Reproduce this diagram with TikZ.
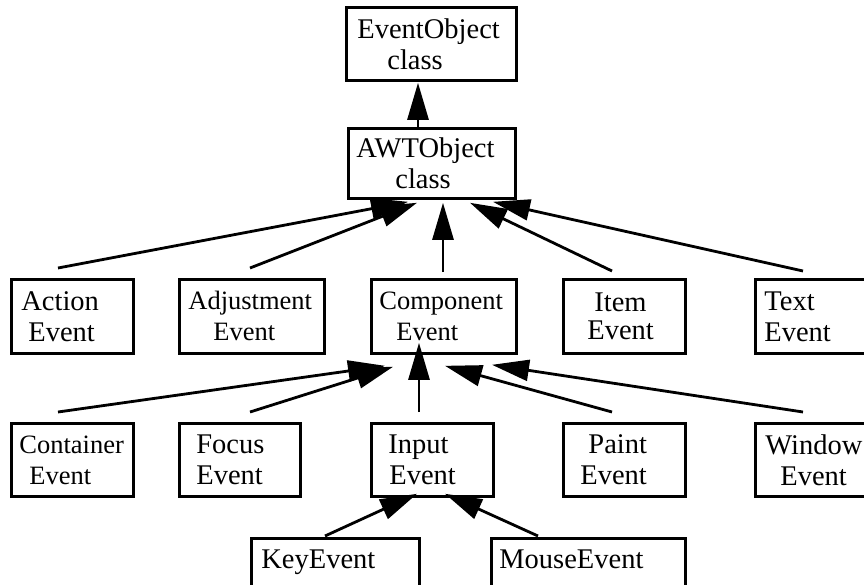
\documentclass[tikz,border=0pt]{standalone}
\usepackage{fontspec}
\setmainfont{Liberation Serif}
\usetikzlibrary{arrows.meta}
\begin{document}
\begin{tikzpicture}[x=1pt,y=-1pt,
  box/.style={draw, line width=2.8pt, inner sep=0pt, anchor=north west, align=left, font=\fontsize{28.5}{31}\selectfont},
  smallf/.style={font=\fontsize{26.5}{31}\selectfont},
  inh/.style={line width=2.8pt, -{Triangle[length=37pt,width=21pt]}}]
\useasboundingbox (0,0) rectangle (864,584);
% boxes
\node[box, minimum width=170pt, minimum height=73pt, text width=170pt] (eo) at (345,6) {\hspace*{11pt}EventObject\\\hspace*{41pt}class};
\node[box, minimum width=167pt, minimum height=70pt, text width=167pt] (awt) at (347,127) {\hspace*{8pt}AWTObject\\\hspace*{47pt}class};
% row 2
\node[box, minimum width=122pt, minimum height=74pt, text width=122pt] (act) at (10,278) {\hspace*{10pt}Action\\\hspace*{17pt}Event};
\node[box, smallf, minimum width=145pt, minimum height=74pt, text width=145pt] (adj) at (178,278) {\hspace*{9pt}Adjustment\\\hspace*{34pt}Event};
\node[box, smallf, minimum width=145pt, minimum height=74pt, text width=145pt] (comp) at (370,278) {\hspace*{8pt}Component\\\hspace*{25pt}Event};
\node[box, font=\fontsize{28.5}{28}\selectfont, minimum width=122pt, minimum height=74pt, text width=122pt] (item) at (562,278) {\hspace*{31pt}Item\\\hspace*{24pt}Event};
\node[box, minimum width=116pt, minimum height=74pt, text width=116pt] (text) at (754,278) {\hspace*{9pt}Text\\\hspace*{9pt}Event};
% row 3
\node[box, smallf, minimum width=122pt, minimum height=73pt, text width=122pt] (cont) at (10,422) {\hspace*{8pt}Container\\\hspace*{18pt}Event};
\node[box, minimum width=121pt, minimum height=73pt, text width=121pt] (foc) at (178,422) {\hspace*{17pt}Focus\\\hspace*{17pt}Event};
\node[box, minimum width=122pt, minimum height=73pt, text width=122pt] (inp) at (370,422) {\hspace*{17pt}Input\\\hspace*{18pt}Event};
\node[box, minimum width=122pt, minimum height=73pt, text width=122pt] (paint) at (562,422) {\hspace*{25pt}Paint\\\hspace*{17pt}Event};
\node[box, minimum width=116pt, minimum height=73pt, text width=116pt] (win) at (754,422) {\hspace*{10pt}Window\\\hspace*{25pt}Event};
% row 4
\node[box, minimum width=168pt, minimum height=72pt, text width=168pt] (key) at (250,537) {\hspace*{10pt}KeyEvent\\\mbox{}};
\node[box, minimum width=194pt, minimum height=72pt, text width=194pt] (mouse) at (490,537) {\hspace*{8pt}MouseEvent\\\mbox{}};
% connectors
\draw[inh] ([xshift=71pt]awt.north west) -- ([xshift=73pt,yshift=-1pt]eo.south west);
\draw[inh] ([xshift=48pt,yshift=10pt]act.north west) -- ([xshift=61pt,yshift=-2pt]awt.south west);
\draw[inh] ([xshift=72pt,yshift=10pt]adj.north west) -- ([xshift=70pt,yshift=-3pt]awt.south west);
\draw[inh] ([xshift=73pt,yshift=6pt]comp.north west) -- ([xshift=96pt,yshift=-3pt]awt.south west);
\draw[inh] ([xshift=50pt,yshift=7pt]item.north west) -- ([xshift=123pt,yshift=-3pt]awt.south west);
\draw[inh] ([xshift=49pt,yshift=7pt]text.north west) -- ([xshift=146pt,yshift=-2pt]awt.south west);
\draw[inh] ([xshift=48pt,yshift=10pt]cont.north west) -- ([xshift=15pt,yshift=-11pt]comp.south west);
\draw[inh] ([xshift=72pt,yshift=10pt]foc.north west) -- ([xshift=23pt,yshift=-12pt]comp.south west);
\draw[inh] ([xshift=49pt,yshift=10pt]inp.north west) -- ([xshift=49pt,yshift=12pt]comp.south west);
\draw[inh] ([xshift=50pt,yshift=10pt]paint.north west) -- ([xshift=75pt,yshift=-11pt]comp.south west);
\draw[inh] ([xshift=49pt,yshift=10pt]win.north west) -- ([xshift=122pt,yshift=-10pt]comp.south west);
\draw[inh] ([xshift=75pt,yshift=1pt]key.north west) -- ([xshift=47pt,yshift=4pt]inp.south west);
\draw[inh] ([xshift=48pt,yshift=1pt]mouse.north west) -- ([xshift=75pt,yshift=4pt]inp.south west);
\end{tikzpicture}
\end{document}
